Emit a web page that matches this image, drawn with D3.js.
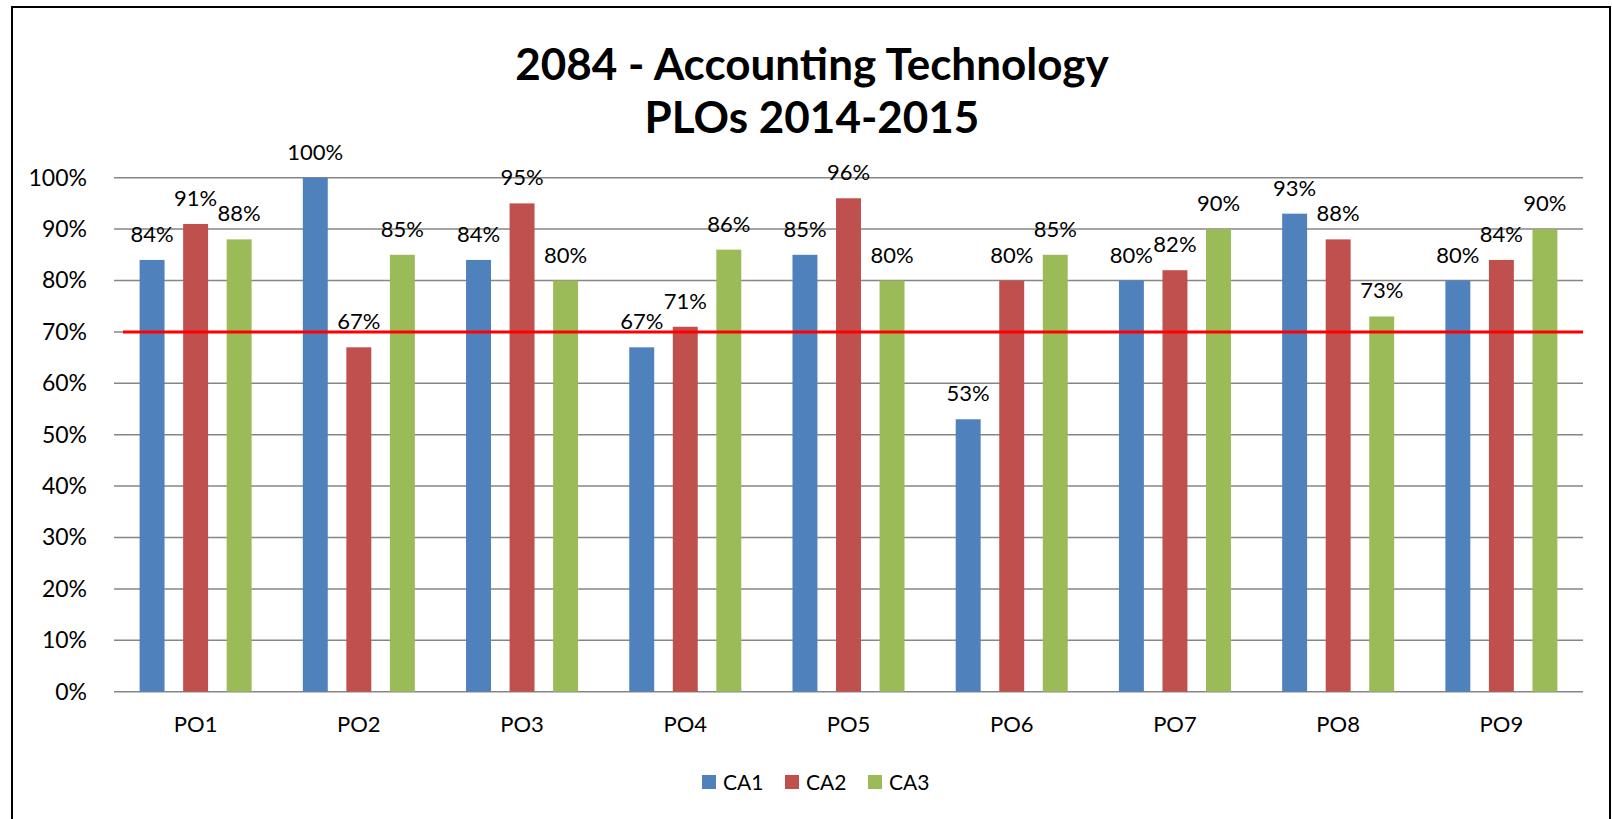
<!DOCTYPE html>
<html>
<head>
<meta charset="utf-8">
<script src="https://cdn.jsdelivr.net/npm/d3@7"></script>
<style>
    body { margin: 0; background: #fff; }
    text { font-family: Lato, "Open Sans", sans-serif; fill: #000; }
</style>
</head>
<body>
<div id="chart"></div>
<script>
let categories = ["PO1", "PO2", "PO3", "PO4", "PO5", "PO6", "PO7", "PO8", "PO9"];
let seriesNames = ["CA1", "CA2", "CA3"];
let ca1 = [0.84, 1.00, 0.84, 0.67, 0.85, 0.53, 0.80, 0.93, 0.80];
let ca2 = [0.91, 0.67, 0.95, 0.71, 0.96, 0.80, 0.82, 0.88, 0.84];
let ca3 = [0.88, 0.85, 0.80, 0.86, 0.80, 0.85, 0.90, 0.73, 0.90];
let yTicks = [0, 0.1, 0.2, 0.3, 0.4, 0.5, 0.6, 0.7, 0.8, 0.9, 1.0];
let target = 0.70;
let titleLines = ["2084 - Accounting Technology", "PLOs 2014-2015"];

let colors = ["#4F81BD", "#C0504D", "#9BBB59"];
let seriesValues = [ca1, ca2, ca3];

let width = 1612;
let height = 819;
let plotLeft = 114, plotRight = 1583, plotTop = 177.7, plotBottom = 691.7;

let svg = d3.select("#chart")
    .append("svg")
    .attr("width", width)
    .attr("height", height);

svg.append("rect")
    .attr("width", width)
    .attr("height", height)
    .attr("fill", "#fff");

// outer frame (bottom edge runs off the picture)
svg.append("rect")
    .attr("x", 12)
    .attr("y", 7)
    .attr("width", 1598)
    .attr("height", 830)
    .attr("fill", "none")
    .attr("stroke", "#000")
    .attr("stroke-width", 2);

svg.selectAll(".title")
    .data(titleLines)
    .enter()
    .append("text")
    .attr("class", "title")
    .text(d => d)
    .attr("text-anchor", "middle")
    .attr("x", 812)
    .attr("y", (d, i) => 80 + i * 53)
    .attr("font-size", 44)
    .attr("font-weight", "bold");

let x = d3.scaleBand()
    .domain(categories)
    .range([plotLeft, plotRight]);

let xInner = d3.scaleBand()
    .domain(seriesNames)
    .range([25.6, x.bandwidth() - 25.6])
    .paddingInner(0.427);

let y = d3.scaleLinear()
    .domain([0, 1])
    .range([plotBottom, plotTop]);

// gridlines
svg.selectAll(".grid")
    .data(yTicks)
    .enter()
    .append("line")
    .attr("class", "grid")
    .attr("x1", plotLeft)
    .attr("x2", plotRight)
    .attr("y1", d => y(d))
    .attr("y2", d => y(d))
    .attr("stroke", "#868686")
    .attr("stroke-width", 1.5);

let yAxis = d3.axisLeft()
    .scale(y)
    .tickValues(yTicks)
    .tickSize(0)
    .tickPadding(0)
    .tickFormat(d3.format(".0%"));

let yAxisG = svg.append("g")
    .attr("class", "axis y-axis")
    .attr("transform", "translate(87,0)")
    .call(yAxis);
yAxisG.select(".domain").remove();
yAxisG.selectAll("text")
    .attr("font-size", 23)
    .attr("font-family", "Lato")
    .attr("fill", "#000");

let xAxis = d3.axisBottom()
    .scale(x)
    .tickSize(0)
    .tickPadding(0);

let xAxisG = svg.append("g")
    .attr("class", "axis x-axis")
    .attr("transform", "translate(0," + plotBottom + ")")
    .call(xAxis);
xAxisG.select(".domain").remove();
xAxisG.selectAll("text")
    .attr("font-size", 22)
    .attr("font-family", "Lato")
    .attr("fill", "#000")
    .attr("dy", 0)
    .attr("y", 40);

// bars
let barData = [];
seriesNames.forEach((s, j) => {
    categories.forEach((c, i) => {
        barData.push({ cat: c, series: s, value: seriesValues[j][i], color: colors[j] });
    });
});

svg.selectAll(".bar")
    .data(barData)
    .enter()
    .append("rect")
    .attr("class", "bar")
    .attr("x", d => x(d.cat) + xInner(d.series))
    .attr("y", d => y(d.value))
    .attr("width", xInner.bandwidth())
    .attr("height", d => y(0) - y(d.value))
    .attr("fill", d => d.color);

svg.selectAll(".label")
    .data(barData)
    .enter()
    .append("text")
    .attr("class", "label")
    .text(d => d3.format(".0%")(d.value))
    .attr("text-anchor", "middle")
    .attr("x", d => x(d.cat) + xInner(d.series) + xInner.bandwidth() / 2)
    .attr("y", d => y(d.value) - 18)
    .attr("font-size", 22);

// target line
svg.append("line")
    .attr("x1", 123)
    .attr("x2", plotRight)
    .attr("y1", y(target))
    .attr("y2", y(target))
    .attr("stroke", "#FF0000")
    .attr("stroke-width", 3);

// legend
let legend = svg.selectAll(".legend")
    .data(seriesNames)
    .enter()
    .append("g")
    .attr("class", "legend")
    .attr("transform", (d, i) => "translate(" + (702 + i * 83) + ",775)");

legend.append("rect")
    .attr("width", 14)
    .attr("height", 14)
    .attr("fill", (d, i) => colors[i]);

legend.append("text")
    .text(d => d)
    .attr("x", 21)
    .attr("y", 15)
    .attr("font-size", 21);
</script>
</body>
</html>
